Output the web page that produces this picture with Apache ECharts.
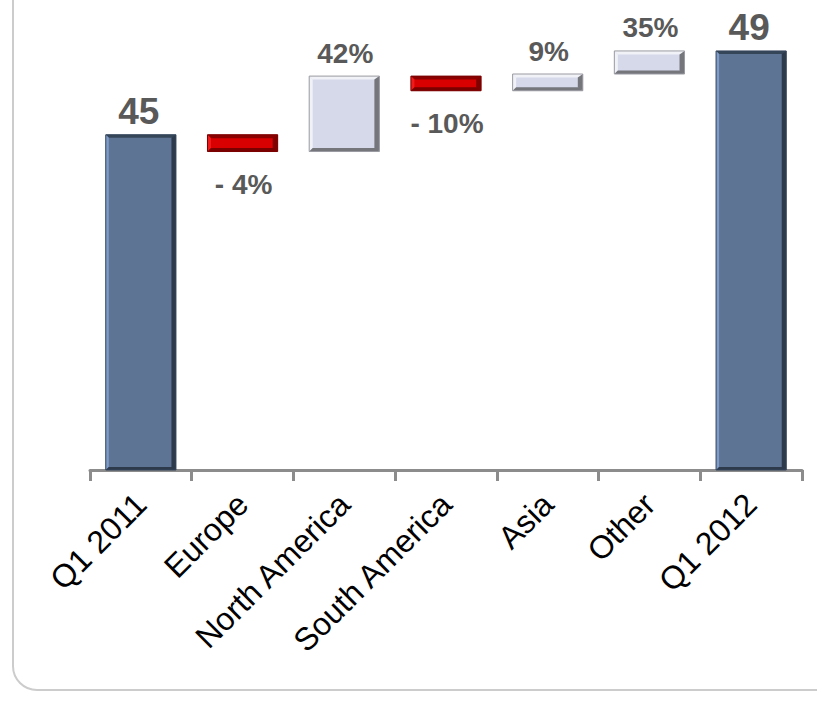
<!DOCTYPE html>
<html>
<head>
<meta charset="utf-8">
<script src="https://cdn.jsdelivr.net/npm/echarts@6/dist/echarts.min.js"></script>
<style>
  html, body { margin: 0; padding: 0; background: #ffffff; }
  #chart { width: 817px; height: 704px; }
</style>
</head>
<body>
<div id="chart"></div>
<script>
// Quarter totals and regional contributions (waterfall)
const categories = ['Q1 2011', 'Europe', 'North America', 'South America', 'Asia', 'Other', 'Q1 2012'];
const startTotal = 45;
const endTotal = 49;
const regionChanges = [-0.8, 3.6, -0.7, 0.8, 1.1];
const regionGrowthLabels = ['- 4%', '42%', '- 10%', '9%', '35%'];
const totalLabels = ['45', '49'];

const Y_MIN = 29;
const Y_MAX = 50;

// rows: [categoryIndex, low, high, kind(0 total, 1 up, 2 down), label]
const rows = [];
rows.push([0, 0, startTotal, 0, totalLabels[0]]);
let level = startTotal;
regionChanges.forEach(function (d, i) {
  const next = level + d;
  rows.push([i + 1, Math.min(level, next), Math.max(level, next), d < 0 ? 2 : 1, regionGrowthLabels[i]]);
  level = next;
});
rows.push([categories.length - 1, 0, endTotal, 0, totalLabels[1]]);

const palettes = [
  { face: '#5e7494', top: '#364659', left: '#7f9cc9', right: '#2c3a4c', bottom: '#2c3a4c', outline: '#34455a' },
  { face: '#d5d9ea', top: '#f1f2f8', left: '#f1f2f8', right: '#75767c', bottom: '#75767c', outline: '#9a9ba2' },
  { face: '#d80000', top: '#8a0000', left: '#f01a1a', right: '#800000', bottom: '#7a0000', outline: '#7a0000' }
];

function renderItem(params, api) {
  const idx = api.value(0);
  const lo = Math.max(api.value(1), Y_MIN);
  const hi = api.value(2);
  const kind = api.value(3);
  const label = rows[params.dataIndex][4];
  const topPt = api.coord([idx, hi]);
  const botPt = api.coord([idx, lo]);
  const band = api.size([1, 0])[0];
  const w = band * 0.69;
  const x0 = topPt[0] - w / 2, x1 = topPt[0] + w / 2;
  const y0 = topPt[1], y1 = botPt[1];
  const p = palettes[kind];
  const b = kind === 0 ? 3 : 3.5;
  const children = [
    { type: 'rect', shape: { x: x0, y: y0, width: w, height: y1 - y0 }, style: { fill: p.face } },
    { type: 'polygon', shape: { points: [[x0, y0], [x1, y0], [x1 - b, y0 + b], [x0 + b, y0 + b]] }, style: { fill: p.top } },
    { type: 'polygon', shape: { points: [[x0, y0], [x0 + b, y0 + b], [x0 + b, y1 - b], [x0, y1]] }, style: { fill: p.left } },
    { type: 'polygon', shape: { points: [[x1, y0], [x1, y1], [x1 - b - 1.5, y1 - b], [x1 - b - 1.5, y0 + b]] }, style: { fill: p.right } },
    { type: 'polygon', shape: { points: [[x0, y1], [x0 + b, y1 - b], [x1 - b, y1 - b], [x1, y1]] }, style: { fill: p.bottom } },
    { type: 'rect', shape: { x: x0, y: y0, width: w, height: y1 - y0 }, style: { fill: 'none', stroke: p.outline, lineWidth: 1 } }
  ];
  const isDown = kind === 2;
  children.push({
    type: 'text',
    style: {
      text: label,
      x: topPt[0] + (kind === 0 ? -2 : 1),
      y: isDown ? y1 + 33 : y0 - 23,
      align: 'center',
      verticalAlign: 'middle',
      fill: '#595959',
      font: 'bold ' + (kind === 0 ? 37 : 28) + 'px "Liberation Sans", Arial, sans-serif'
    }
  });
  return { type: 'group', children: children };
}

const chart = echarts.init(document.getElementById('chart'), null, { renderer: 'svg' });
chart.setOption({
  animation: false,
  backgroundColor: '#ffffff',
  grid: { left: 90, right: 15, top: 30, bottom: 234, containLabel: false },
  xAxis: {
    type: 'category',
    data: categories,
    boundaryGap: true,
    axisLine: { show: true, lineStyle: { color: '#8c8c8c', width: 3 } },
    axisTick: { show: true, length: 11, lineStyle: { color: '#8c8c8c', width: 3 } },
    axisLabel: {
      rotate: 45,
      margin: 29,
      color: '#000000',
      fontSize: 32,
      fontFamily: '"Liberation Sans", Arial, sans-serif',
      interval: 0
    },
    splitLine: { show: false }
  },
  yAxis: {
    type: 'value',
    min: Y_MIN,
    max: Y_MAX,
    show: false,
    splitLine: { show: false }
  },
  graphic: [{
    type: 'rect',
    z: -10,
    silent: true,
    shape: { x: 13, y: -40, width: 860, height: 730, r: 24 },
    style: { fill: 'none', stroke: '#cccccc', lineWidth: 2 }
  }],
  series: [{
    type: 'custom',
    renderItem: renderItem,
    encode: { x: 0, y: [1, 2] },
    data: rows.map(function (r) { return [r[0], r[1], r[2], r[3]]; }),
    z: 2
  }]
});
</script>
</body>
</html>
